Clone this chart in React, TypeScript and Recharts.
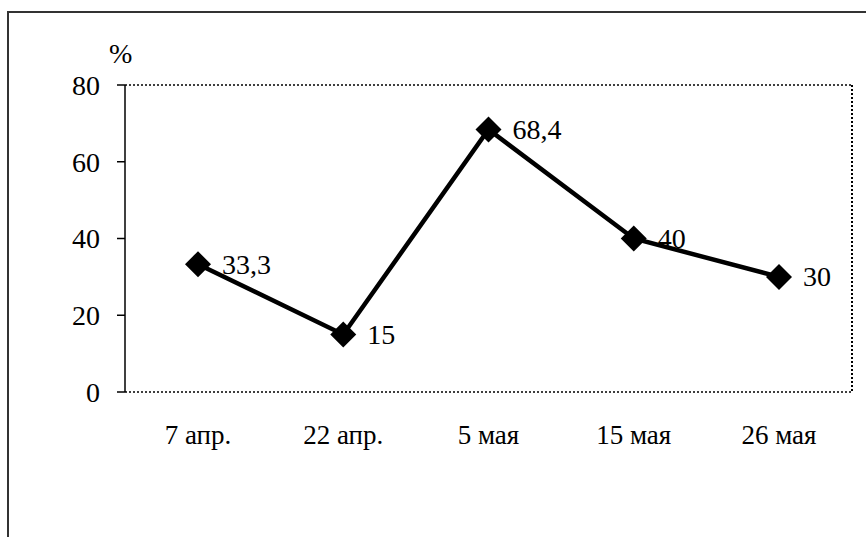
import { LineChart, Line, XAxis, YAxis, LabelList } from 'recharts'

const dates = ['7 апр.', '22 апр.', '5 мая', '15 мая', '26 мая']
const percents = [33.3, 15, 68.4, 40, 30]
const yTicks = [0, 20, 40, 60, 80]

const data = dates.map((d, i) => ({ date: d, value: percents[i] }))

const serif = '"Liberation Serif", "Times New Roman", serif'

const Diamond = (props: any) => {
  const { cx, cy } = props
  if (cx == null || cy == null) return null
  const r = 13
  return (
    <polygon
      points={`${cx},${cy - r} ${cx + r},${cy} ${cx},${cy + r} ${cx - r},${cy}`}
      fill='#000'
    />
  )
}

const ValueLabel = (props: any) => {
  const { x, y, value } = props
  return (
    <text
      x={x + 24}
      y={y}
      dy='0.34em'
      fontSize={28}
      fontFamily={serif}
      fill='#000'
    >
      {String(value).replace('.', ',')}
    </text>
  )
}

export default function App() {
  return (
    <div style={{ position: 'relative', width: 866, height: 537, background: '#fff', overflow: 'hidden' }}>
      <style>{'body{margin:0}'}</style>
      <div
        style={{
          position: 'absolute',
          left: 7,
          top: 11,
          width: 900,
          height: 600,
          borderLeft: '2px solid #333',
          borderTop: '2px solid #333',
        }}
      />
      <div
        style={{
          position: 'absolute',
          left: 109,
          top: 38,
          fontFamily: serif,
          fontSize: 28,
          color: '#000',
        }}
      >
        %
      </div>
      <div style={{ position: 'absolute', left: 0, top: 0 }}>
        <LineChart width={866} height={537} data={data} margin={{ top: 84, right: 13, bottom: 0, left: 0 }}>
          <XAxis
            dataKey='date'
            xAxisId='bottom'
            padding={{ left: 73, right: 73 }}
            axisLine={{ stroke: '#000', strokeWidth: 1.5, strokeDasharray: '2 2' }}
            tickLine={false}
            tickSize={0}
            tickMargin={33}
            tick={{ fontSize: 27, fontFamily: serif, fill: '#000' }}
            height={145}
          />
          <XAxis
            dataKey='date'
            xAxisId='top'
            orientation='top'
            padding={{ left: 73, right: 73 }}
            axisLine={{ stroke: '#000', strokeWidth: 1.5, strokeDasharray: '2 2' }}
            tickLine={false}
            tick={false}
            height={1}
          />
          <YAxis
            yAxisId='left'
            domain={[0, 80]}
            ticks={yTicks}
            width={125}
            axisLine={{ stroke: '#000', strokeWidth: 1.5 }}
            tickLine={{ stroke: '#000', strokeWidth: 1.5 }}
            tickSize={8}
            tickMargin={17}
            tick={{ fontSize: 28, fontFamily: serif, fill: '#000' }}
          />
          <YAxis
            yAxisId='right'
            orientation='right'
            domain={[0, 80]}
            width={1}
            axisLine={{ stroke: '#000', strokeWidth: 2, strokeDasharray: '2 2' }}
            tickLine={false}
            tick={false}
          />
          <Line
            xAxisId='bottom'
            yAxisId='left'
            type='linear'
            dataKey='value'
            stroke='#000'
            strokeWidth={4.5}
            dot={<Diamond />}
            activeDot={false}
            isAnimationActive={false}
          >
            <LabelList dataKey='value' content={<ValueLabel />} />
          </Line>
        </LineChart>
      </div>
    </div>
  )
}
